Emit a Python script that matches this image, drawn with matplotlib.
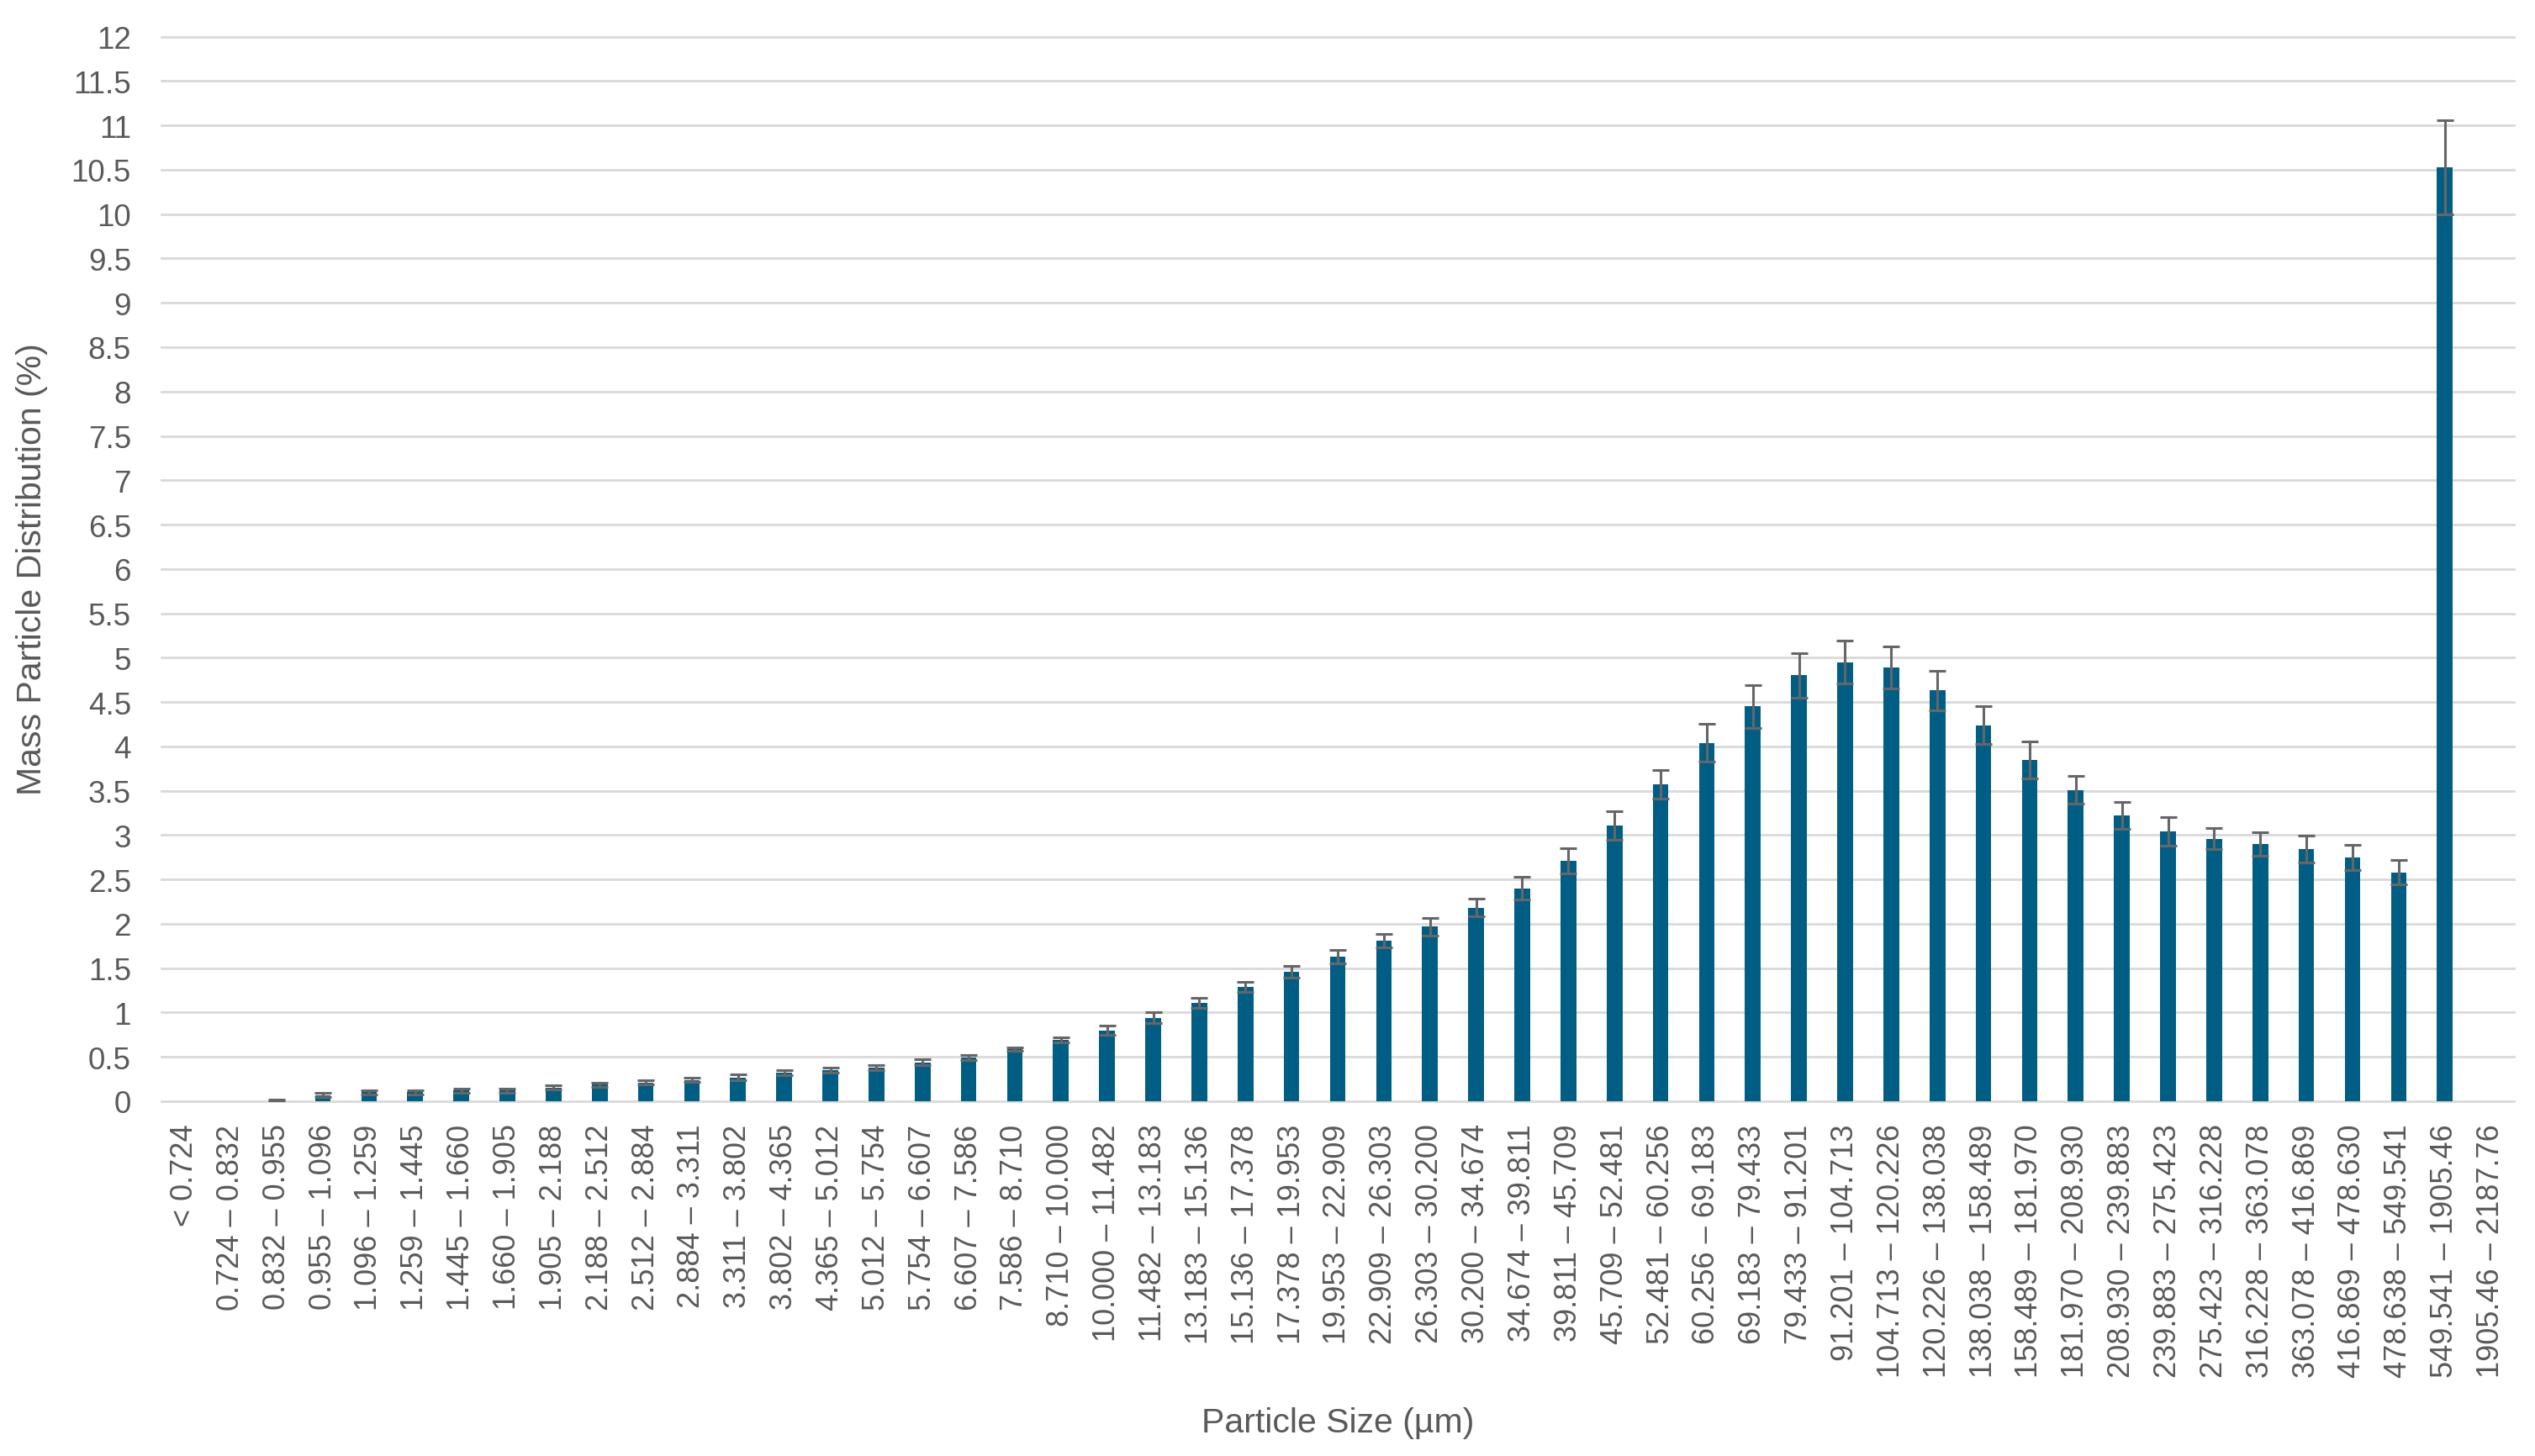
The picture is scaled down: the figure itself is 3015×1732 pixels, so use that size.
import numpy as np
import matplotlib
matplotlib.use("Agg")
import matplotlib.pyplot as plt

categories = [
    "< 0.724", "0.724 – 0.832", "0.832 – 0.955", "0.955 – 1.096", "1.096 – 1.259",
    "1.259 – 1.445", "1.445 – 1.660", "1.660 – 1.905", "1.905 – 2.188", "2.188 – 2.512",
    "2.512 – 2.884", "2.884 – 3.311", "3.311 – 3.802", "3.802 – 4.365", "4.365 – 5.012",
    "5.012 – 5.754", "5.754 – 6.607", "6.607 – 7.586", "7.586 – 8.710", "8.710 – 10.000",
    "10.000 – 11.482", "11.482 – 13.183", "13.183 – 15.136", "15.136 – 17.378",
    "17.378 – 19.953", "19.953 – 22.909", "22.909 – 26.303", "26.303 – 30.200",
    "30.200 – 34.674", "34.674 – 39.811", "39.811 – 45.709", "45.709 – 52.481",
    "52.481 – 60.256", "60.256 – 69.183", "69.183 – 79.433", "79.433 – 91.201",
    "91.201 – 104.713", "104.713 – 120.226", "120.226 – 138.038", "138.038 – 158.489",
    "158.489 – 181.970", "181.970 – 208.930", "208.930 – 239.883", "239.883 – 275.423",
    "275.423 – 316.228", "316.228 – 363.078", "363.078 – 416.869", "416.869 – 478.630",
    "478.638 – 549.541", "549.541 – 1905.46", "1905.46 – 2187.76",
]

values = [
    0.0, 0.0, 0.01, 0.07, 0.10, 0.10, 0.12, 0.12, 0.155, 0.185,
    0.21, 0.24, 0.27, 0.32, 0.35, 0.38, 0.44, 0.49, 0.59, 0.69,
    0.80, 0.94, 1.11, 1.29, 1.46, 1.63, 1.81, 1.97, 2.18, 2.40,
    2.71, 3.11, 3.57, 4.04, 4.45, 4.80, 4.95, 4.89, 4.63, 4.24,
    3.85, 3.51, 3.22, 3.04, 2.96, 2.90, 2.84, 2.75, 2.58, 10.53,
    0.0,
]

errors = [
    0.0, 0.0, 0.01, 0.025, 0.025, 0.025, 0.025, 0.025, 0.025, 0.025,
    0.025, 0.025, 0.03, 0.03, 0.03, 0.03, 0.03, 0.03, 0.02, 0.03,
    0.05, 0.06, 0.06, 0.06, 0.07, 0.08, 0.08, 0.10, 0.10, 0.13,
    0.14, 0.16, 0.16, 0.21, 0.24, 0.25, 0.24, 0.24, 0.22, 0.21,
    0.21, 0.16, 0.15, 0.16, 0.12, 0.13, 0.15, 0.14, 0.14, 0.53,
    0.0,
]

yticks = [i * 0.5 for i in range(25)]
ytick_labels = ["0", "0.5", "1", "1.5", "2", "2.5", "3", "3.5", "4", "4.5", "5", "5.5",
                "6", "6.5", "7", "7.5", "8", "8.5", "9", "9.5", "10", "10.5", "11", "11.5", "12"]

x_title = "Particle Size (µm)"
y_title = "Mass Particle Distribution (%)"

BAR_COLOR = "#005E85"
ERR_COLOR = "#666666"
TEXT_COLOR = "#595959"
GRID_COLOR = "#D9D9D9"

W, H = 3015, 1733
fig = plt.figure(figsize=(W / 100, H / 100), dpi=100)
left, right, top, bottom = 192, 2990, 44.6, 1311
ax = fig.add_axes([left / W, (H - bottom) / H, (right - left) / W, (bottom - top) / H])

x = np.arange(len(categories))
vals = np.array(values)
errs = np.array(errors)

ax.bar(x, vals, width=0.34, color=BAR_COLOR, zorder=2)
mask = vals > 0
ax.errorbar(x[mask], vals[mask], yerr=errs[mask], fmt="none", ecolor=ERR_COLOR,
            elinewidth=2.2, capsize=7, capthick=2.2, zorder=3)

ax.set_xlim(-0.5, len(categories) - 0.5)
ax.set_ylim(0, 12)
ax.set_yticks(yticks)
ax.set_yticklabels(ytick_labels, fontsize=26.5, color=TEXT_COLOR, family="Liberation Sans")
ax.set_xticks(x)
ax.set_xticklabels(categories, rotation=90, fontsize=26, color=TEXT_COLOR,
                   family="Liberation Sans")
ax.tick_params(axis="y", length=0, pad=26)
ax.tick_params(axis="x", length=0, pad=19)

ax.yaxis.grid(True, color=GRID_COLOR, linewidth=2.0)
ax.set_axisbelow(True)
for gl in ax.get_ygridlines():
    gl.set_clip_on(False)
for s in ax.spines.values():
    s.set_visible(False)

fig.text((left + right) / 2 / W, 1 - 1693 / H, x_title, ha="center", va="center",
         fontsize=29.5, color=TEXT_COLOR, family="Liberation Sans")
fig.text(38 / W, 1 - 677 / H, y_title, ha="center", va="center", rotation=90,
         fontsize=29.5, color=TEXT_COLOR, family="Liberation Sans")

fig.savefig("out.png", dpi=100, facecolor="white")
